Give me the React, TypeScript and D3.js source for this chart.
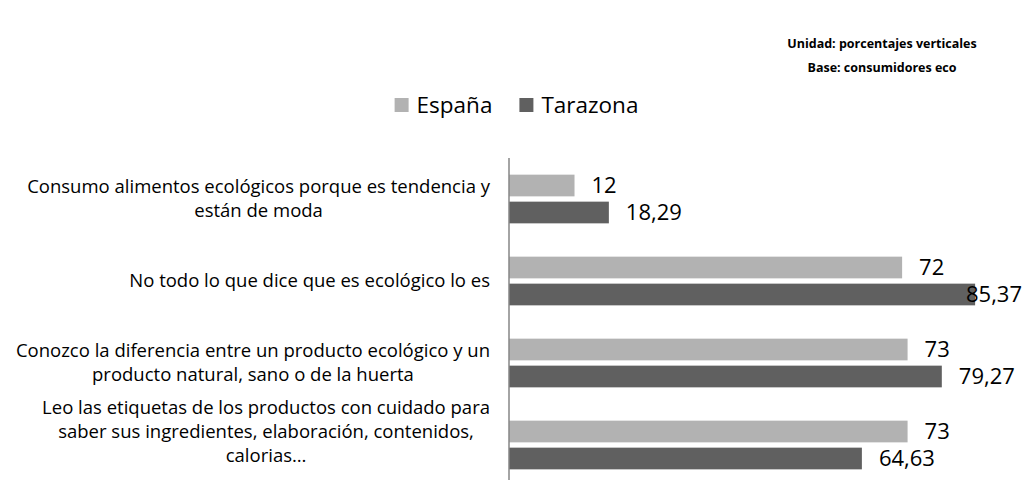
import React, { useRef, useEffect } from 'react';
import * as d3 from 'd3';

const categories = [
  'Consumo alimentos ecológicos porque es tendencia y|están de moda',
  'No todo lo que dice que es ecológico lo es',
  'Conozco la diferencia entre un producto ecológico y un|producto natural, sano o de la huerta',
  'Leo las etiquetas de los productos con cuidado para|saber sus ingredientes, elaboración, contenidos,|calorias…',
];
const series = ['España', 'Tarazona'];
const espana = [12, 72, 73, 73];
const tarazona = [18.29, 85.37, 79.27, 64.63];
const colors = ['#b2b2b2', '#606060'];
const titleLines = ['Unidad: porcentajes verticales', 'Base: consumidores eco'];

const FONT = '"Open Sans", sans-serif';
const fmt = (v: number) => String(v).replace('.', ',');

const App = () => {
  const svgRef = useRef<SVGSVGElement>(null);
  useEffect(() => {
    const W = 1023;
    const H = 480;
    const svg = d3.select(svgRef.current).attr('width', W).attr('height', H);
    svg.selectAll('*').remove();

    const x = d3.scaleLinear().domain([0, 100]).range([509, 1055]);
    const y = d3.scaleBand().domain(categories).range([158, 486]);
    const y1 = d3.scaleBand().domain(series).range([0, y.bandwidth()]).paddingInner(0.196).paddingOuter(0.617);

    const rows = categories.map((c, i) => ({ c, vals: [espana[i], tarazona[i]] }));

    // bars
    const g = svg.selectAll('g.row').data(rows).join('g').attr('class', 'row')
      .attr('transform', d => `translate(0,${y(d.c)})`);
    g.selectAll('rect').data(d => d.vals.map((v, k) => ({ v, s: series[k], k })))
      .join('rect')
      .attr('x', x(0))
      .attr('y', d => y1(d.s)!)
      .attr('width', d => x(d.v) - x(0))
      .attr('height', y1.bandwidth())
      .attr('fill', d => colors[d.k]);

    // value labels
    g.selectAll('text').data(d => d.vals.map((v, k) => ({ v, s: series[k], k })))
      .join('text')
      .attr('y', d => y1(d.s)! + y1.bandwidth() / 2)
      .attr('dy', '0.36em')
      .style('font-family', FONT)
      .style('font-size', '22px')
      .attr('fill', '#000')
      .text(d => fmt(d.v))
      .each(function (d) {
        const el = this as SVGTextElement;
        const w = el.getComputedTextLength();
        let tx = x(d.v) + 17;
        if (tx + w > W - 1) tx = W - 1 - w;
        d3.select(el).attr('x', tx);
      });

    // axis line
    svg.append('line')
      .attr('x1', x(0)).attr('x2', x(0))
      .attr('y1', y.range()[0]).attr('y2', y.range()[1])
      .attr('stroke', '#868686').attr('stroke-width', 1.5);

    // category labels
    categories.forEach(c => {
      const lines = c.split('|');
      const lh = 24;
      const center = Math.min(y(c)! + y.bandwidth() / 2, H - 12 - (lines.length * lh) / 2);
      const t = svg.append('text')
        .style('font-family', FONT)
        .style('font-size', '18.5px')
        .attr('fill', '#000')
        .attr('text-anchor', 'middle');
      const spans = lines.map((l, i) => t.append('tspan')
        .attr('y', center + (i - (lines.length - 1) / 2) * lh)
        .attr('dy', '0.35em')
        .text(l));
      const maxW = d3.max(spans, s => (s.node() as SVGTextContentElement).getComputedTextLength()) || 0;
      spans.forEach(s => s.attr('x', 490 - maxW / 2));
    });

    // legend
    const leg = svg.append('g');
    let lx = 0;
    series.forEach((s, k) => {
      leg.append('rect').attr('x', lx).attr('y', 98).attr('width', 14).attr('height', 14).attr('fill', colors[k]);
      const t = leg.append('text').attr('x', lx + 22).attr('y', 105).attr('dy', '0.36em')
        .style('font-family', FONT).style('font-size', '22.5px').attr('fill', '#000').text(s);
      lx += 22 + (t.node() as SVGTextElement).getComputedTextLength() + 27;
    });
    lx -= 27;
    leg.attr('transform', `translate(${516.5 - lx / 2},0)`);

    // title
    svg.selectAll('text.title').data(titleLines).join('text')
      .attr('class', 'title')
      .attr('x', 882)
      .attr('y', (d, i) => 48 + i * 24)
      .attr('text-anchor', 'middle')
      .style('font-family', FONT)
      .style('font-size', '12.5px')
      .style('font-weight', 'bold')
      .attr('fill', '#000')
      .text(d => d);
  }, []);
  return <svg ref={svgRef} style={{ position: 'absolute', left: 0, top: 0 }}></svg>;
};

export default App;
